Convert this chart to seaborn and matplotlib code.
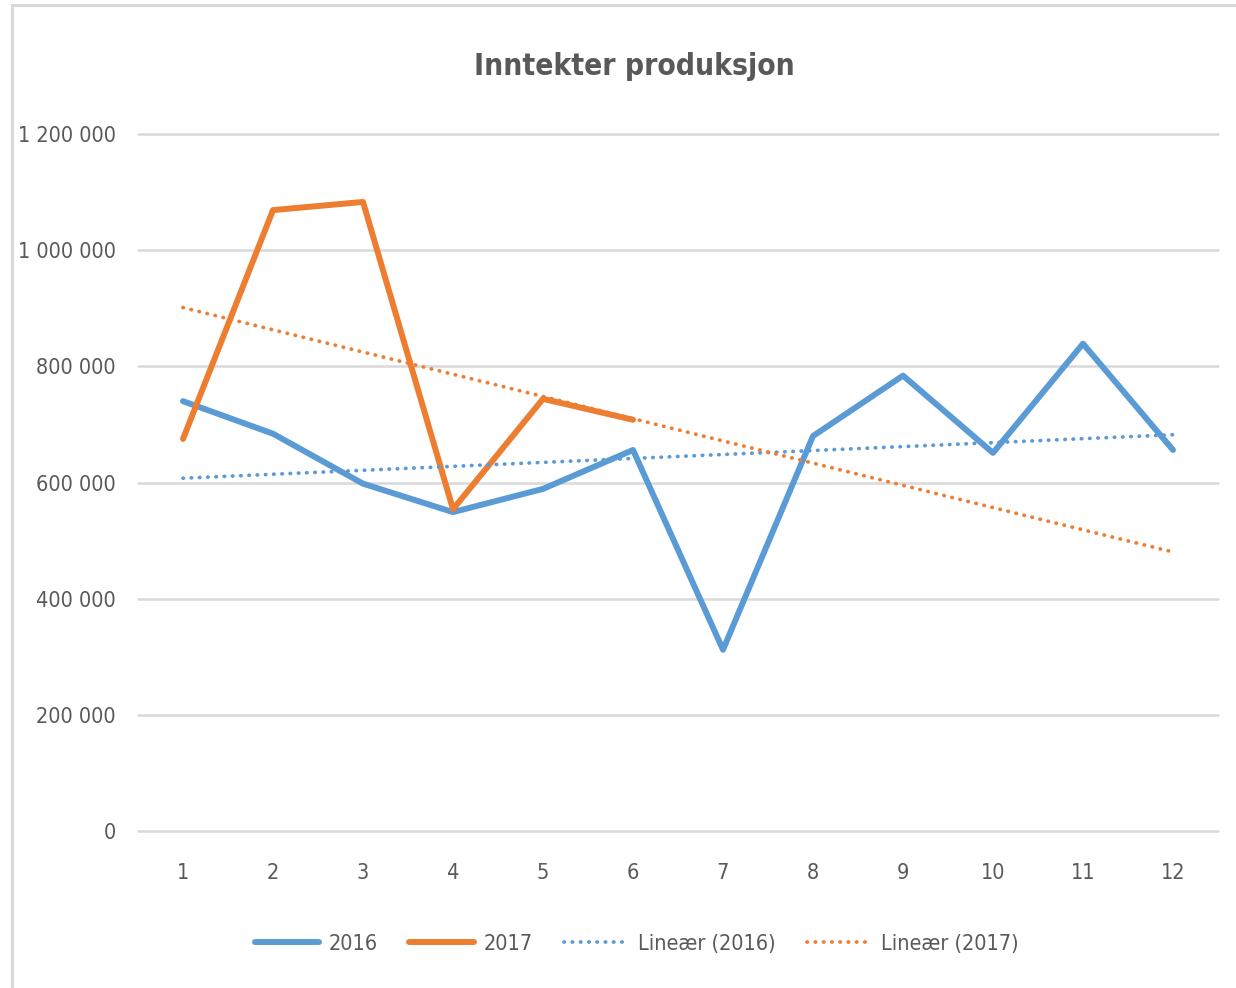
import os

import numpy as np
import pandas as pd
import seaborn as sns
from matplotlib import font_manager
from matplotlib import pyplot as plt
from matplotlib.patches import Rectangle
from matplotlib.ticker import FuncFormatter, MultipleLocator

months = list(range(1, 13))
inntekt_2016 = [740000, 684000, 598000, 549000, 589000, 656000,
                312000, 680000, 784000, 651000, 839000, 656000]
months_2017 = [1, 2, 3, 4, 5, 6]
inntekt_2017 = [675000, 1069000, 1083000, 554000, 744000, 708000]

BLUE = '#5B9BD5'
ORANGE = '#ED7D31'
TEXT = '#595959'
GRID = '#D9D9D9'

sns.set_style('white')
plt.rcParams['font.family'] = ['DejaVu Sans']


def find_font(names):
    files = font_manager.findSystemFonts()
    for n in names:
        for f in files:
            if os.path.basename(f).lower() == n.lower():
                return f
    return None


# excel uses calibri, closest thing here is a narrow/condensed sans
reg_file = find_font(['LiberationSansNarrow-Regular.ttf', 'DejaVuSansCondensed.ttf'])
bold_file = find_font(['LiberationSansNarrow-Bold.ttf', 'DejaVuSansCondensed-Bold.ttf'])
fp = font_manager.FontProperties(fname=reg_file) if reg_file else font_manager.FontProperties()
fpb = font_manager.FontProperties(fname=bold_file) if bold_file else font_manager.FontProperties(weight='bold')
fp.set_size(15.5)
fpb.set_size(21.5)

df16 = pd.DataFrame({'month': months, 'value': inntekt_2016})
df17 = pd.DataFrame({'month': months_2017, 'value': inntekt_2017})

# linear trendlines like excel, the 2017 one forecast out to month 12
fit16 = np.polyfit(df16.month, df16.value, 1)
fit17 = np.polyfit(df17.month, df17.value, 1)
trend = pd.DataFrame({'month': months})
trend['t16'] = np.polyval(fit16, trend.month)
trend['t17'] = np.polyval(fit17, trend.month)

fig = plt.figure(figsize=(12.36, 9.88), dpi=100)
ax = fig.add_axes([138 / 1236, 1 - 831 / 988, 1080 / 1236, 697 / 988])

fig.patches.append(Rectangle((12 / 1236, -0.1), 1.2, 1.1 - 5 / 988,
                             transform=fig.transFigure, fill=False,
                             edgecolor=GRID, lw=2.2, zorder=0))

sns.lineplot(data=df16, x='month', y='value', ax=ax, color=BLUE, lw=4.3,
             solid_capstyle='round', solid_joinstyle='round', label='2016')
sns.lineplot(data=df17, x='month', y='value', ax=ax, color=ORANGE, lw=4.3,
             solid_capstyle='round', solid_joinstyle='round', label='2017')
sns.lineplot(data=trend, x='month', y='t16', ax=ax, color=BLUE, lw=2.7,
             linestyle=(0, (0.1, 2.1)), dash_capstyle='round',
             label='Lineær (2016)')
sns.lineplot(data=trend, x='month', y='t17', ax=ax, color=ORANGE, lw=2.7,
             linestyle=(0, (0.1, 2.1)), dash_capstyle='round',
             label='Lineær (2017)')

ax.set_xlim(0.5, 12.5)
ax.set_ylim(0, 1200000)
ax.set_xticks(months)
ax.yaxis.set_major_locator(MultipleLocator(200000))
ax.yaxis.set_major_formatter(
    FuncFormatter(lambda v, p: f'{int(v):,}'.replace(',', ' ')))
ax.grid(axis='y', color=GRID, lw=1.8)
for gl in ax.get_ygridlines():
    gl.set_clip_on(False)
ax.set_axisbelow(True)
for s in ax.spines.values():
    s.set_visible(False)
ax.tick_params(axis='both', length=0, colors=TEXT)
ax.tick_params(axis='x', pad=23)
ax.tick_params(axis='y', pad=16)
for lab in ax.get_xticklabels() + ax.get_yticklabels():
    lab.set_fontproperties(fp)
ax.set_xlabel('')
ax.set_ylabel('')

fig.text(634 / 1236, 1 - 75 / 988, 'Inntekter produksjon', ha='center',
         va='baseline', fontproperties=fpb, color=TEXT)

ax.legend(loc='center', bbox_to_anchor=(0.462, -0.162), ncol=4, frameon=False,
          prop=fp, labelcolor=TEXT, handlelength=3.0, handletextpad=0.45,
          columnspacing=1.45)

fig.savefig('out.png', dpi=100)
